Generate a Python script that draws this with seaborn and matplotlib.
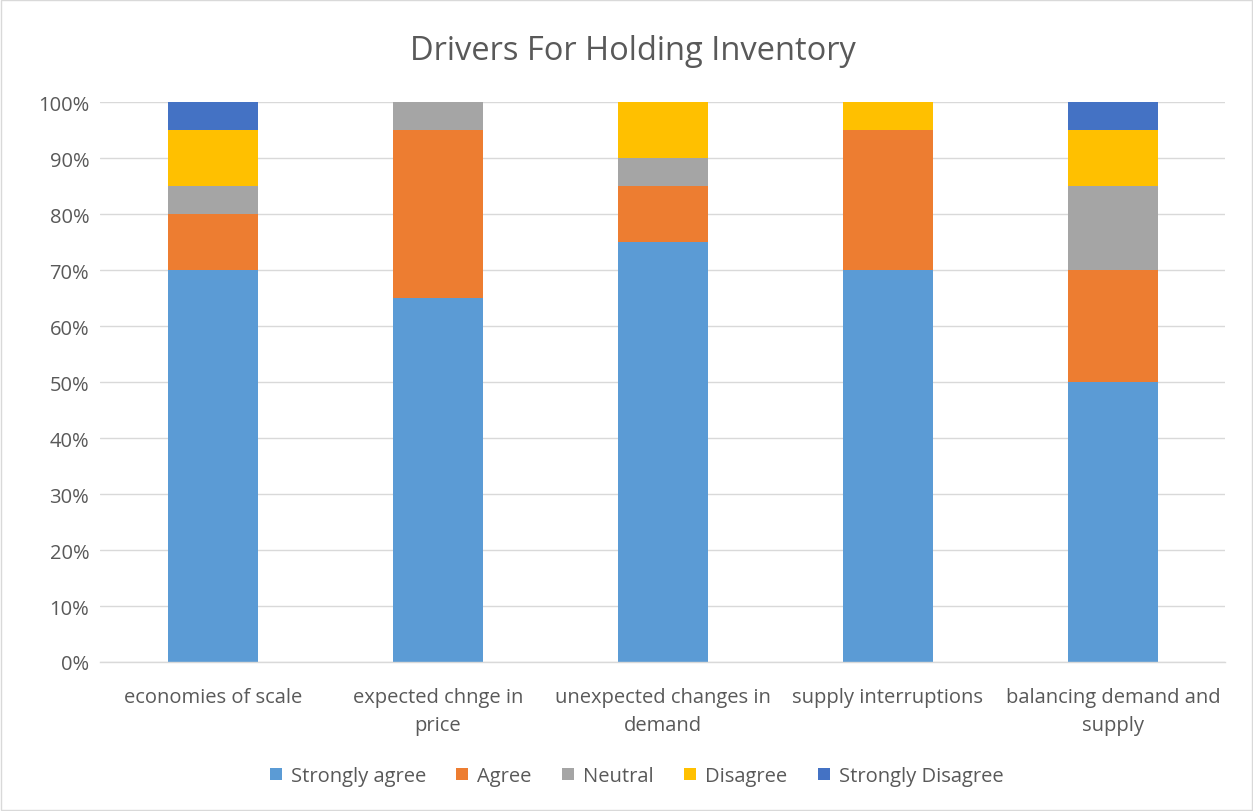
import numpy as np
import pandas as pd
import matplotlib
matplotlib.use("Agg")
import matplotlib.pyplot as plt
import seaborn as sns
from matplotlib.patches import Patch, Rectangle

categories = ["economies of scale", "expected chnge in\nprice",
              "unexpected changes in\ndemand", "supply interruptions",
              "balancing demand and\nsupply"]
strongly_agree = [70, 65, 75, 70, 50]
agree = [10, 30, 10, 25, 20]
neutral = [5, 5, 5, 0, 15]
disagree = [10, 0, 10, 5, 10]
strongly_disagree = [5, 0, 0, 0, 5]

series_names = ["Strongly agree", "Agree", "Neutral", "Disagree", "Strongly Disagree"]
series_values = [strongly_agree, agree, neutral, disagree, strongly_disagree]
colors = ["#5B9BD5", "#ED7D31", "#A5A5A5", "#FFC000", "#4472C4"]

sns.set_theme(style="white")
plt.rcParams["font.family"] = ["Open Sans", "DejaVu Sans"]

fig = plt.figure(figsize=(12.53, 8.12), dpi=100)
ax = fig.add_axes([0.080, 0.1835, 0.898, 0.6895])

df = pd.DataFrame({"category": categories})
cum = np.zeros(len(categories))
bottoms = []
for vals in series_values:
    bottoms.append(cum.copy())
    cum = cum + np.array(vals)

for name, vals, bot, col in zip(series_names, series_values, bottoms, colors):
    d = df.copy()
    d["value"] = np.array(vals)
    sns.barplot(data=d, x="category", y="value", color=col, width=0.4,
                bottom=bot, ax=ax, saturation=1, linewidth=0)

ax.set_ylim(0, 100)
ax.set_xlim(-0.5, len(categories) - 0.5)
ax.set_yticks(np.arange(0, 101, 10))
ax.set_yticklabels([f"{v}%" for v in range(0, 101, 10)], fontsize=14.5, color="#595959")
ax.set_xticks(range(len(categories)))
ax.set_xticklabels(categories, fontsize=14.5, color="#595959", linespacing=1.55)
ax.tick_params(axis="y", length=0, pad=8)
ax.tick_params(axis="x", length=0, pad=18)
ax.set_xlabel("")
ax.set_ylabel("")
ax.yaxis.grid(True, color="#D9D9D9", linewidth=1)
ax.set_axisbelow(True)
for s in ["top", "right", "left"]:
    ax.spines[s].set_visible(False)
ax.spines["bottom"].set_color("#D9D9D9")
ax.spines["bottom"].set_linewidth(1)

fig.text(0.505, 0.936, "Drivers For Holding Inventory", ha="center", va="center",
         fontsize=23.5, color="#595959")

handles = [Patch(facecolor=c, edgecolor="none") for c in colors]
fig.legend(handles, series_names, loc="center", bbox_to_anchor=(0.508, 0.043), ncol=5,
           frameon=False, fontsize=14.5, handlelength=0.6, handleheight=0.6,
           columnspacing=1.5, handletextpad=0.45, labelcolor="#595959")

fig.patches.append(Rectangle((0.001, 0.001), 0.998, 0.998, transform=fig.transFigure,
                             fill=False, edgecolor="#D9D9D9", linewidth=1))

fig.savefig("out.png", dpi=100)
